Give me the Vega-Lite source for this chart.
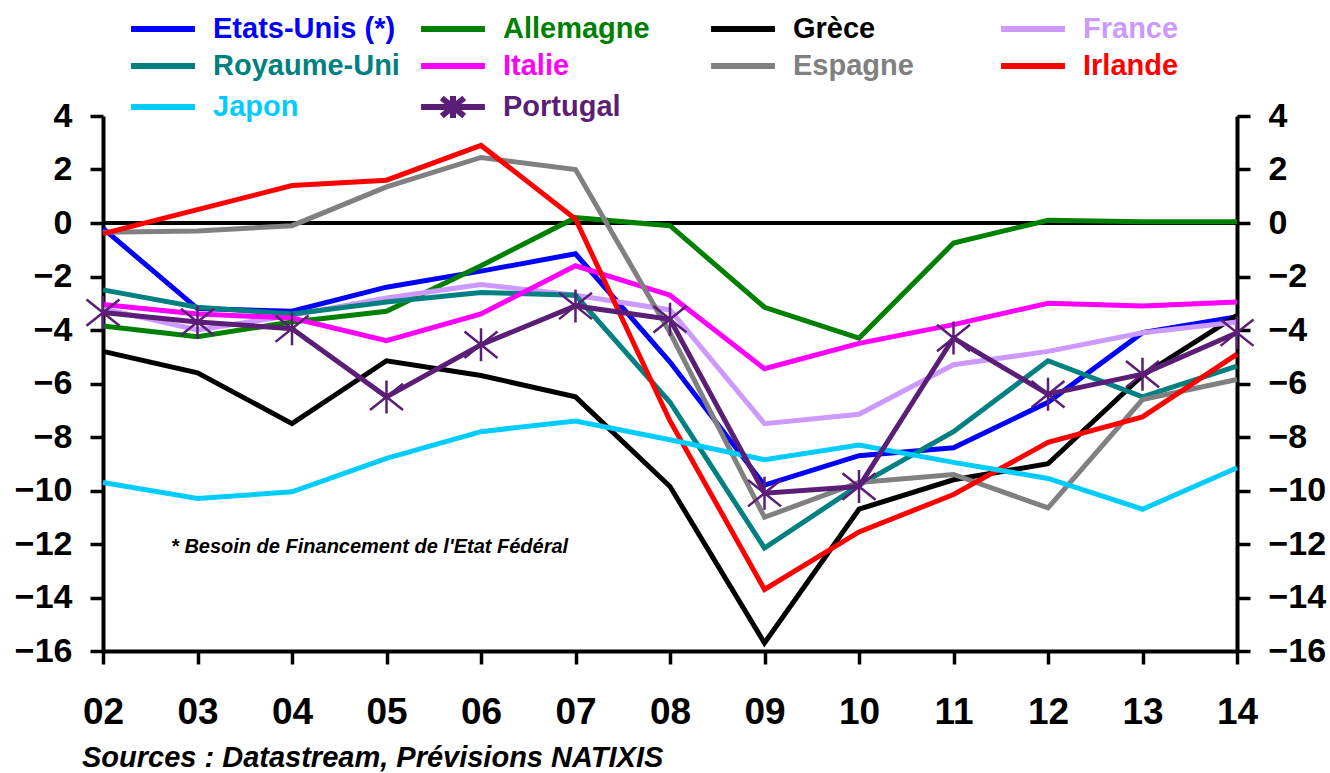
{
  "$schema": "https://vega.github.io/schema/vega-lite/v6.json",
  "width": 1134,
  "height": 535,
  "autosize": {"type": "none"},
  "padding": {"left": 103, "top": 116, "right": 93, "bottom": 122},
  "background": "white",
  "config": {
    "view": {"stroke": null},
    "font": "Liberation Sans",
    "axis": {
      "domainColor": "black", "domainWidth": 4, "tickColor": "black", "tickWidth": 3.5, "tickSize": 13,
      "labelFont": "Liberation Sans", "labelFontWeight": "bold", "labelColor": "black", "grid": false, "title": null, "labelFlush": false
    }
  },
  "title": {
    "text": "Sources : Datastream, Prévisions NATIXIS",
    "orient": "bottom", "anchor": "start", "frame": "group", "dx": -21, "offset": 14,
    "fontSize": 29, "fontStyle": "italic", "fontWeight": "bold", "color": "black", "font": "Liberation Sans"
  },
  "data": {"values": [
    {"annee":2,"pays":"Etats-Unis (*)","solde":-0.2},{"annee":3,"pays":"Etats-Unis (*)","solde":-3.2},{"annee":4,"pays":"Etats-Unis (*)","solde":-3.3},{"annee":5,"pays":"Etats-Unis (*)","solde":-2.4},{"annee":6,"pays":"Etats-Unis (*)","solde":-1.8},{"annee":7,"pays":"Etats-Unis (*)","solde":-1.15},{"annee":8,"pays":"Etats-Unis (*)","solde":-5.2},{"annee":9,"pays":"Etats-Unis (*)","solde":-9.8},{"annee":10,"pays":"Etats-Unis (*)","solde":-8.7},{"annee":11,"pays":"Etats-Unis (*)","solde":-8.4},{"annee":12,"pays":"Etats-Unis (*)","solde":-6.7},{"annee":13,"pays":"Etats-Unis (*)","solde":-4.1},{"annee":14,"pays":"Etats-Unis (*)","solde":-3.5},
    {"annee":2,"pays":"Allemagne","solde":-3.85},{"annee":3,"pays":"Allemagne","solde":-4.25},{"annee":4,"pays":"Allemagne","solde":-3.7},{"annee":5,"pays":"Allemagne","solde":-3.3},{"annee":6,"pays":"Allemagne","solde":-1.6},{"annee":7,"pays":"Allemagne","solde":0.2},{"annee":8,"pays":"Allemagne","solde":-0.1},{"annee":9,"pays":"Allemagne","solde":-3.15},{"annee":10,"pays":"Allemagne","solde":-4.3},{"annee":11,"pays":"Allemagne","solde":-0.75},{"annee":12,"pays":"Allemagne","solde":0.1},{"annee":13,"pays":"Allemagne","solde":0.05},{"annee":14,"pays":"Allemagne","solde":0.05},
    {"annee":2,"pays":"Grèce","solde":-4.8},{"annee":3,"pays":"Grèce","solde":-5.6},{"annee":4,"pays":"Grèce","solde":-7.5},{"annee":5,"pays":"Grèce","solde":-5.15},{"annee":6,"pays":"Grèce","solde":-5.7},{"annee":7,"pays":"Grèce","solde":-6.5},{"annee":8,"pays":"Grèce","solde":-9.85},{"annee":9,"pays":"Grèce","solde":-15.7},{"annee":10,"pays":"Grèce","solde":-10.7},{"annee":11,"pays":"Grèce","solde":-9.6},{"annee":12,"pays":"Grèce","solde":-9.0},{"annee":13,"pays":"Grèce","solde":-5.7},{"annee":14,"pays":"Grèce","solde":-3.45},
    {"annee":2,"pays":"France","solde":-3.2},{"annee":3,"pays":"France","solde":-4.0},{"annee":4,"pays":"France","solde":-3.45},{"annee":5,"pays":"France","solde":-2.8},{"annee":6,"pays":"France","solde":-2.3},{"annee":7,"pays":"France","solde":-2.7},{"annee":8,"pays":"France","solde":-3.25},{"annee":9,"pays":"France","solde":-7.5},{"annee":10,"pays":"France","solde":-7.15},{"annee":11,"pays":"France","solde":-5.3},{"annee":12,"pays":"France","solde":-4.8},{"annee":13,"pays":"France","solde":-4.1},{"annee":14,"pays":"France","solde":-3.7},
    {"annee":2,"pays":"Royaume-Uni","solde":-2.5},{"annee":3,"pays":"Royaume-Uni","solde":-3.15},{"annee":4,"pays":"Royaume-Uni","solde":-3.4},{"annee":5,"pays":"Royaume-Uni","solde":-2.95},{"annee":6,"pays":"Royaume-Uni","solde":-2.6},{"annee":7,"pays":"Royaume-Uni","solde":-2.7},{"annee":8,"pays":"Royaume-Uni","solde":-6.7},{"annee":9,"pays":"Royaume-Uni","solde":-12.15},{"annee":10,"pays":"Royaume-Uni","solde":-9.8},{"annee":11,"pays":"Royaume-Uni","solde":-7.8},{"annee":12,"pays":"Royaume-Uni","solde":-5.15},{"annee":13,"pays":"Royaume-Uni","solde":-6.5},{"annee":14,"pays":"Royaume-Uni","solde":-5.35},
    {"annee":2,"pays":"Italie","solde":-3.05},{"annee":3,"pays":"Italie","solde":-3.4},{"annee":4,"pays":"Italie","solde":-3.55},{"annee":5,"pays":"Italie","solde":-4.4},{"annee":6,"pays":"Italie","solde":-3.4},{"annee":7,"pays":"Italie","solde":-1.6},{"annee":8,"pays":"Italie","solde":-2.7},{"annee":9,"pays":"Italie","solde":-5.45},{"annee":10,"pays":"Italie","solde":-4.5},{"annee":11,"pays":"Italie","solde":-3.8},{"annee":12,"pays":"Italie","solde":-3.0},{"annee":13,"pays":"Italie","solde":-3.1},{"annee":14,"pays":"Italie","solde":-2.95},
    {"annee":2,"pays":"Espagne","solde":-0.35},{"annee":3,"pays":"Espagne","solde":-0.3},{"annee":4,"pays":"Espagne","solde":-0.1},{"annee":5,"pays":"Espagne","solde":1.35},{"annee":6,"pays":"Espagne","solde":2.45},{"annee":7,"pays":"Espagne","solde":2.0},{"annee":8,"pays":"Espagne","solde":-4.1},{"annee":9,"pays":"Espagne","solde":-11.0},{"annee":10,"pays":"Espagne","solde":-9.7},{"annee":11,"pays":"Espagne","solde":-9.4},{"annee":12,"pays":"Espagne","solde":-10.65},{"annee":13,"pays":"Espagne","solde":-6.6},{"annee":14,"pays":"Espagne","solde":-5.85},
    {"annee":2,"pays":"Irlande","solde":-0.4},{"annee":3,"pays":"Irlande","solde":0.5},{"annee":4,"pays":"Irlande","solde":1.4},{"annee":5,"pays":"Irlande","solde":1.6},{"annee":6,"pays":"Irlande","solde":2.9},{"annee":7,"pays":"Irlande","solde":0.15},{"annee":8,"pays":"Irlande","solde":-7.4},{"annee":9,"pays":"Irlande","solde":-13.7},{"annee":10,"pays":"Irlande","solde":-11.55},{"annee":11,"pays":"Irlande","solde":-10.15},{"annee":12,"pays":"Irlande","solde":-8.2},{"annee":13,"pays":"Irlande","solde":-7.25},{"annee":14,"pays":"Irlande","solde":-4.9},
    {"annee":2,"pays":"Japon","solde":-9.7},{"annee":3,"pays":"Japon","solde":-10.3},{"annee":4,"pays":"Japon","solde":-10.05},{"annee":5,"pays":"Japon","solde":-8.8},{"annee":6,"pays":"Japon","solde":-7.8},{"annee":7,"pays":"Japon","solde":-7.4},{"annee":8,"pays":"Japon","solde":-8.1},{"annee":9,"pays":"Japon","solde":-8.85},{"annee":10,"pays":"Japon","solde":-8.3},{"annee":11,"pays":"Japon","solde":-8.95},{"annee":12,"pays":"Japon","solde":-9.55},{"annee":13,"pays":"Japon","solde":-10.7},{"annee":14,"pays":"Japon","solde":-9.15},
    {"annee":2,"pays":"Portugal","solde":-3.35},{"annee":3,"pays":"Portugal","solde":-3.7},{"annee":4,"pays":"Portugal","solde":-3.95},{"annee":5,"pays":"Portugal","solde":-6.5},{"annee":6,"pays":"Portugal","solde":-4.55},{"annee":7,"pays":"Portugal","solde":-3.1},{"annee":8,"pays":"Portugal","solde":-3.6},{"annee":9,"pays":"Portugal","solde":-10.1},{"annee":10,"pays":"Portugal","solde":-9.85},{"annee":11,"pays":"Portugal","solde":-4.3},{"annee":12,"pays":"Portugal","solde":-6.4},{"annee":13,"pays":"Portugal","solde":-5.65},{"annee":14,"pays":"Portugal","solde":-4.1}
  ]},
  "layer": [
    {
      "mark": {"type": "rule", "color": "black", "strokeWidth": 3},
      "encoding": {
        "y": {"datum": 0, "type": "quantitative", "scale": {"domain": [-16, 4], "nice": false}, "axis": null}
      }
    },
    {
      "mark": {"type": "line", "strokeWidth": 5, "strokeJoin": "miter"},
      "encoding": {
        "x": {"field": "annee", "type": "quantitative", "scale": {"domain": [2, 14], "nice": false, "zero": false},
          "axis": {"values": [2,3,4,5,6,7,8,9,10,11,12,13,14], "labelExpr": "datum.value < 10 ? '0' + datum.value : '' + datum.value", "labelFontSize": 37, "labelPadding": 30, "labelFlush": false}},
        "y": {"field": "solde", "type": "quantitative", "scale": {"domain": [-16, 4], "nice": false},
          "axis": {"orient": "left", "values": [-16,-14,-12,-10,-8,-6,-4,-2,0,2,4], "labelFontSize": 34, "labelPadding": 18}},
        "color": {
          "field": "pays", "type": "nominal",
          "scale": {
            "domain": ["Etats-Unis (*)","Allemagne","Grèce","France","Royaume-Uni","Italie","Espagne","Irlande","Japon","Portugal"],
            "range": ["#0000FF","#008000","#000000","#CC99FF","#008080","#FF00FF","#808080","#FF0000","#00CCFF","#5B1E77"]
          },
          "sort": null,
          "legend": {
            "orient": "none", "legendX": 42, "legendY": -109, "columns": 4, "direction": "horizontal", "gridAlign": "all",
            "columnPadding": 9, "rowPadding": -5, "symbolSize": 900, "symbolStrokeWidth": 6, "symbolType": "stroke",
            "labelOffset": 32, "labelFontSize": 29, "labelFontWeight": "bold", "labelFont": "Liberation Sans",
            "labelLimit": 400, "title": null, "padding": 0,
            "encode": {
              "labels": {"update": {"fill": {"scale": "color", "field": "value"}}},
              "symbols": {"update": {
                "shape": {"signal": "datum.value === 'Portugal' ? 'M-2.13,0L2.13,0M0,-0.73L0,0.73M-0.75,-0.6L0.75,0.6M-0.75,0.6L0.75,-0.6' : 'M-2.13,0L2.13,0'"},
                "strokeCap": {"value": "butt"}
              }}
            }
          }
        },
        "order": {"field": "annee", "type": "quantitative"}
      }
    },
    {
      "transform": [{"filter": "datum.pays === 'Portugal'"}],
      "mark": {"type": "point", "shape": "M0,-1L0,1M-1,-0.8L1,0.8M-1,0.8L1,-0.8", "filled": false, "stroke": "#5B1E77", "strokeWidth": 2.5, "size": 1089, "opacity": 1},
      "encoding": {
        "x": {"field": "annee", "type": "quantitative"},
        "y": {"field": "solde", "type": "quantitative",
          "axis": {"orient": "right", "values": [-16,-14,-12,-10,-8,-6,-4,-2,0,2,4], "labelFontSize": 34, "labelPadding": 18}}
      }
    },
    {
      "data": {"values": [{"note": "* Besoin de Financement de l'Etat Fédéral", "annee": 2.72, "solde": -12.1}]},
      "mark": {"type": "text", "align": "left", "baseline": "middle", "fontSize": 20, "fontStyle": "italic", "fontWeight": "bold", "color": "black", "font": "Liberation Sans"},
      "encoding": {
        "x": {"field": "annee", "type": "quantitative"},
        "y": {"field": "solde", "type": "quantitative", "axis": null},
        "text": {"field": "note"}
      }
    }
  ],
  "resolve": {"scale": {"y": "shared"}, "axis": {"y": "independent"}}
}
